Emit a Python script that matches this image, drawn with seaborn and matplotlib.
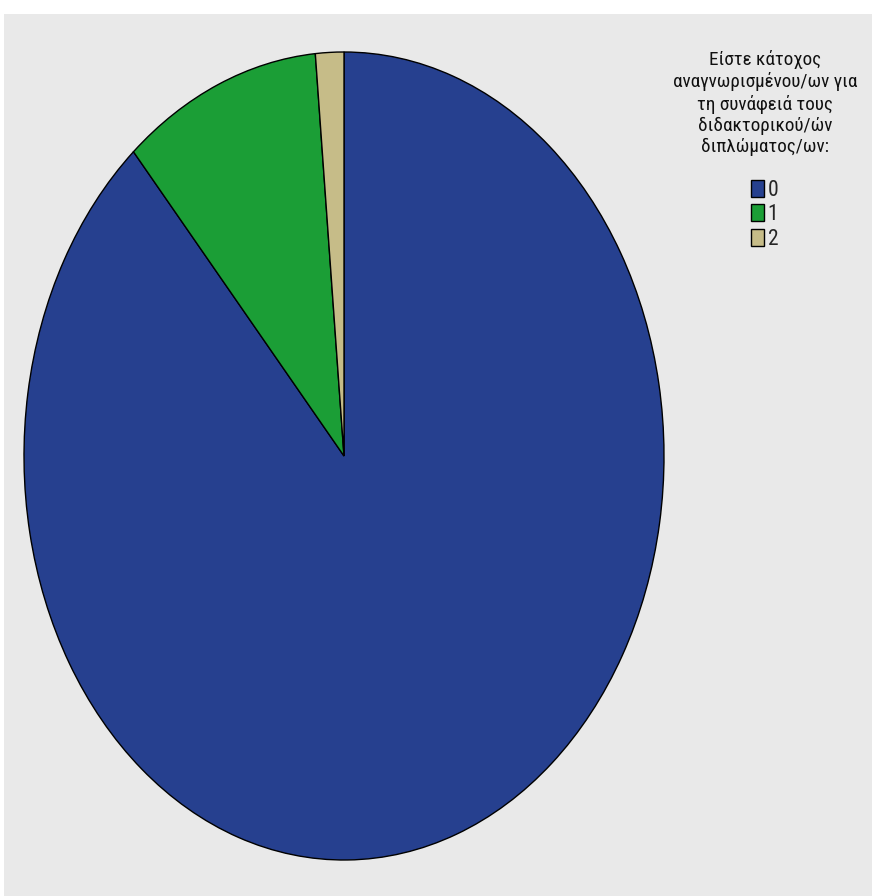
import matplotlib
matplotlib.use("Agg")
import matplotlib.pyplot as plt
import seaborn as sns
from matplotlib.patches import Rectangle

categories = ["0", "1", "2"]
counts = [62, 7, 1]
colors = ["#26408f", "#1b9e36", "#c6bc88"]
legend_title = "Είστε κάτοχος\nαναγνωρισμένου/ων για\nτη συνάφειά τους\nδιδακτορικού/ών\nδιπλώματος/ων:"

sns.set_theme(style="white")
plt.rcParams['font.family'] = ['Roboto Condensed', 'Liberation Sans', 'DejaVu Sans']

W, H = 872, 896
fig = plt.figure(figsize=(W / 100, H / 100), dpi=100, facecolor="white")
fig.patches.append(Rectangle((4 / W, 0), 1 - 4 / W, (H - 14) / H, transform=fig.transFigure,
                             facecolor="#e9e9e9", edgecolor="none", zorder=-10))

ax = fig.add_axes([24 / W, 1 - 860 / H, 640 / W, 808 / H])
wedges, _ = ax.pie(counts, colors=colors, startangle=90, counterclock=False,
                   wedgeprops=dict(edgecolor="black", linewidth=1.0))
ax.set_aspect("auto")
ax.set_xlim(-1, 1)
ax.set_ylim(-1, 1)
ax.axis("off")

fig.text(765 / W, 1 - 50 / H, legend_title, ha="center", va="top", fontsize=13.8,
         linespacing=1.22, color="#111111")

fig.legend(wedges, categories, loc="upper left", bbox_to_anchor=(751 / W, 1 - 180 / H),
           frameon=False, fontsize=15.5, handlelength=0.62, handleheight=0.85,
           handletextpad=0.15, labelspacing=0.15, borderpad=0, borderaxespad=0)

fig.savefig("out.png", dpi=100, facecolor="white")
